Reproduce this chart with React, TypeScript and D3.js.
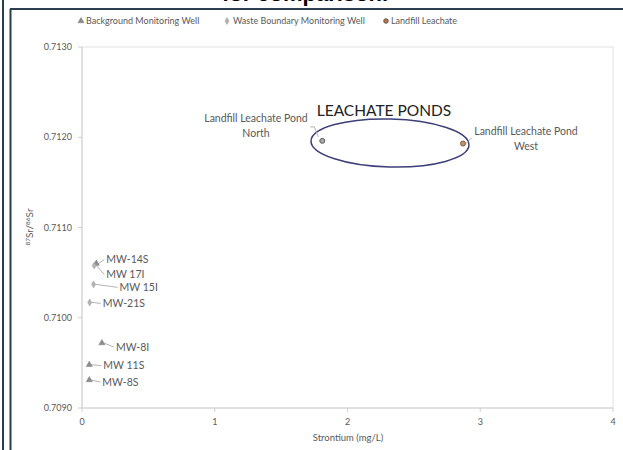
import React from 'react';
import * as d3 from 'd3';

// monitoring wells
const wellNames = ['MW-14S', 'MW 17I', 'MW 15I', 'MW-21S', 'MW-8I', 'MW 11S', 'MW-8S'];
const wellTypes = ['background', 'boundary', 'boundary', 'boundary', 'background', 'background', 'background'];
const wellSr = [0.108, 0.092, 0.087, 0.058, 0.15, 0.055, 0.055];
const wellRatio = [0.7106, 0.71058, 0.71037, 0.71017, 0.70972, 0.70948, 0.70931];

// leachate ponds
const pondNames = ['Landfill Leachate Pond North', 'Landfill Leachate Pond West'];
const pondSr = [1.81, 2.87];
const pondRatio = [0.71196, 0.71193];

const xTicks = [0, 1, 2, 3, 4];
const yTicks = [0.709, 0.71, 0.711, 0.712, 0.713];

// label offsets (px) from each point: where the text starts
const wellLabelOffset: [number, number][] = [
  [10, -4], [12, 9], [26, 3], [13, 1], [14, 4], [14, 1], [13, 2],
];

const FONT = 'Lato, "Open Sans", sans-serif';
const GREY = '#595959';

const Marker: React.FC<{ type: string; x: number; y: number }> = ({ type, x, y }) => {
  if (type === 'background') {
    const tri = d3.symbol().type(d3.symbolTriangle).size(16)() || '';
    return <path d={tri} transform={`translate(${x},${y})`} fill="#8c8c8c" stroke="#7a7a7a" strokeWidth={0.5} />;
  }
  if (type === 'boundary') {
    const dia = d3.symbol().type(d3.symbolDiamond).size(14)() || '';
    return <path d={dia} transform={`translate(${x},${y})`} fill="#b4b4b4" stroke="#9a9a9a" strokeWidth={0.5} />;
  }
  return null;
};

export default function App() {
  const x = d3.scaleLinear().domain([0, 4]).range([82, 613]);
  const y = d3.scaleLinear().domain([0.709, 0.713]).range([408, 47]);

  const north = { x: x(pondSr[0]), y: y(pondRatio[0]) };
  const west = { x: x(pondSr[1]), y: y(pondRatio[1]) };
  const [nLine1, nLine2] = [pondNames[0].replace(' North', ''), 'North'];
  const [wLine1, wLine2] = [pondNames[1].replace(' West', ''), 'West'];

  return (
    <div style={{ position: 'fixed', left: 0, top: 0 }}>
      <svg width={623} height={450} style={{ display: 'block', background: '#fff' }} fontFamily={FONT}>
        {/* page title, cut off at the top */}
        <text x={305} y={1} textAnchor="middle" fontFamily='"Liberation Sans", Arial, sans-serif' fontWeight="bold" fontSize={22} fill="#000">for comparison.</text>

        {/* frame */}
        <line x1={3} y1={0} x2={3} y2={450} stroke="#2b3d4f" strokeWidth={2} />
        <line x1={10.5} y1={9} x2={10.5} y2={450} stroke="#2b3d4f" strokeWidth={2} />
        <line x1={10} y1={9} x2={623} y2={9} stroke="#2b3d4f" strokeWidth={2} />

        {/* legend */}
        <g fontSize={9} fill={GREY}>
          <Marker type="background" x={81} y={21} />
          <text x={86} y={24}>Background Monitoring Well</text>
          <Marker type="boundary" x={227} y={21} />
          <text x={233} y={24}>Waste Boundary Monitoring Well</text>
          <circle cx={386} cy={21} r={2.3} fill="#b07c4c" stroke="#5a4030" strokeWidth={0.8} />
          <text x={391} y={24}>Landfill Leachate</text>
        </g>

        {/* plot area border */}
        <rect x={82} y={47} width={531} height={361} fill="none" stroke="#e2e2e2" strokeWidth={1} />
        <line x1={82} y1={408} x2={613} y2={408} stroke="#d0d0d0" />
        <line x1={82} y1={47} x2={82} y2={408} stroke="#d0d0d0" />

        {/* y ticks */}
        {yTicks.map(t => (
          <g key={t}>
            <line x1={78} x2={82} y1={y(t)} y2={y(t)} stroke="#d0d0d0" />
            <text x={72} y={y(t) + 3} textAnchor="end" fontSize={9} fill={GREY}>{d3.format('.4f')(t)}</text>
          </g>
        ))}
        {/* x ticks */}
        {xTicks.map(t => (
          <g key={t}>
            <line x1={x(t)} x2={x(t)} y1={408} y2={412} stroke="#d0d0d0" />
            <text x={x(t)} y={425} textAnchor="middle" fontSize={9} fill={GREY}>{t}</text>
          </g>
        ))}

        {/* axis titles */}
        <text x={348} y={441} textAnchor="middle" fontSize={9.5} fill={GREY}>Strontium (mg/L)</text>
        <text transform="translate(33,227) rotate(-90)" textAnchor="middle" fontSize={10} fill={GREY}>
          <tspan baselineShift="super" fontSize={6.5}>87</tspan>
          <tspan>Sr/</tspan>
          <tspan baselineShift="super" fontSize={6.5}>86</tspan>
          <tspan>Sr</tspan>
        </text>

        {/* wells */}
        {wellNames.map((name, i) => {
          const px = x(wellSr[i]);
          const py = y(wellRatio[i]);
          const [dx, dy] = wellLabelOffset[i];
          return (
            <g key={name}>
              <line x1={px + 2} y1={py} x2={px + dx - 2} y2={py + dy} stroke="#a0a0a0" strokeWidth={0.8} />
              <Marker type={wellTypes[i]} x={px} y={py} />
              <text x={px + dx} y={py + dy + 3.5} fontSize={10.5} fill={GREY}>{name}</text>
            </g>
          );
        })}

        {/* leachate ponds */}
        <ellipse cx={390} cy={143} rx={79} ry={24} fill="none" stroke="#3c3f78" strokeWidth={1.5} transform="rotate(1.5,390,143)" />
        <text x={384} y={116} textAnchor="middle" fontSize={15.5} fill="#222">LEACHATE PONDS</text>

        <path d={`M${north.x - 4},${north.y - 4} L${north.x - 8},${north.y - 14} L${north.x - 12},${north.y - 14}`} stroke="#a0a0a0" fill="none" strokeWidth={0.8} />
        <circle cx={north.x} cy={north.y} r={2.5} fill="#a8a8a8" stroke="#555" strokeWidth={0.9} />
        <text x={256} y={122} textAnchor="middle" fontSize={10.5} fill={GREY}>{nLine1}</text>
        <text x={256} y={137} textAnchor="middle" fontSize={10.5} fill={GREY}>{nLine2}</text>

        <line x1={west.x + 3} y1={west.y} x2={west.x + 9} y2={west.y - 6} stroke="#a0a0a0" strokeWidth={0.8} />
        <circle cx={west.x} cy={west.y} r={2.5} fill="#c9915c" stroke="#6b5040" strokeWidth={0.9} />
        <text x={526} y={135} textAnchor="middle" fontSize={10.5} fill={GREY}>{wLine1}</text>
        <text x={526} y={150} textAnchor="middle" fontSize={10.5} fill={GREY}>{wLine2}</text>
      </svg>
    </div>
  );
}
